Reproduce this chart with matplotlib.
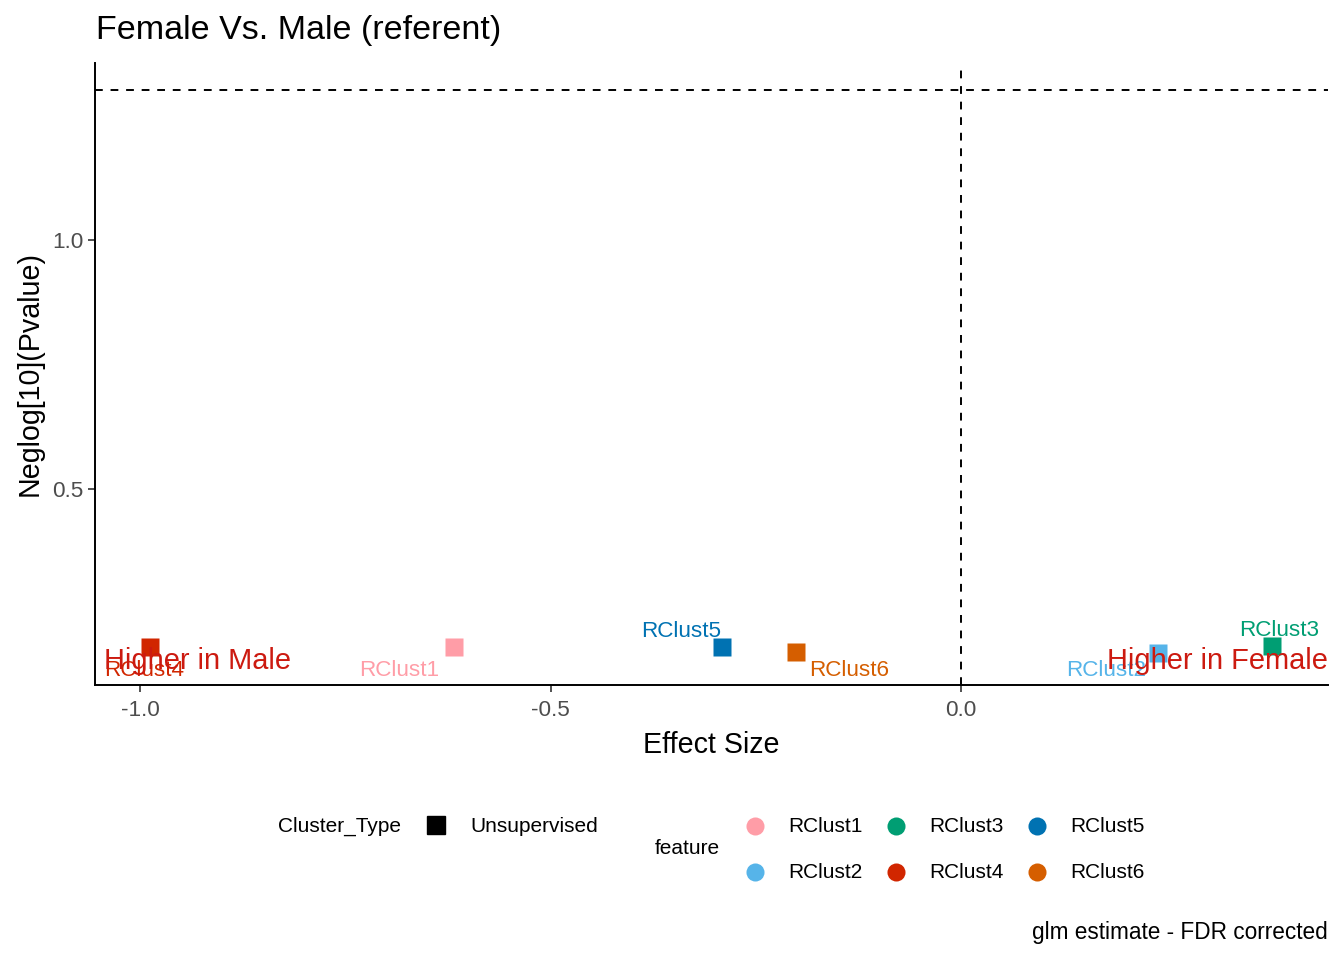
import matplotlib
matplotlib.use("Agg")
import matplotlib.pyplot as plt
from matplotlib.lines import Line2D

plt.rcParams['font.family'] = ['Liberation Sans', 'DejaVu Sans']

features = ["RClust1", "RClust2", "RClust3", "RClust4", "RClust5", "RClust6"]
effect = [-0.618, 0.240, 0.379, -0.988, -0.291, -0.201]
neglogp = [0.183, 0.171, 0.185, 0.183, 0.183, 0.173]
colors = ["#FF9DA7", "#56B4E9", "#009E73", "#D12600", "#0072B2", "#D55E00"]
# label offsets (pixels) as placed by the repel algorithm in the reference
label_offsets = [(-55, -24), (-52, -18), (7, 15), (-6, -24), (-41, 15), (53, -19)]
cluster_type = "Unsupervised"
xticks = [-1.0, -0.5, 0.0]
yticks = [0.5, 1.0]
sig_line = 1.30103

W, H = 1344, 960
fig = plt.figure(figsize=(W / 100, H / 100), dpi=100)
ax = fig.add_axes([95 / W, 1 - 685 / H, (1328 - 95) / W, (685 - 63) / H])

ax.set_xlim(-1.055, 0.447)
ax.set_ylim(0.106, 1.355)

ax.axhline(sig_line, color='black', ls=(0, (4, 4)), lw=1.4, zorder=1)
ax.axvline(0, color='black', ls=(0, (4, 4)), lw=1.4, zorder=1)

for x, y, c in zip(effect, neglogp, colors):
    ax.plot([x], [y], marker='s', ms=13.5, color=c, mec='none', ls='none', zorder=3)

for name, x, y, c, off in zip(features, effect, neglogp, colors, label_offsets):
    ax.annotate(name, (x, y), xytext=off, textcoords='offset pixels',
                ha='center', va='center', color=c, fontsize=16.2, zorder=4)

ax.text(-1.0438, 0.155, "Higher in Male", color='#CC1A10', fontsize=20.9,
        ha='left', va='center', zorder=5)
ax.text(1.0, 0.155, "Higher in Female", color='#CC1A10', fontsize=20.9,
        ha='right', va='center', zorder=5, transform=ax.get_yaxis_transform())

for s in ['top', 'right']:
    ax.spines[s].set_visible(False)
for s in ['left', 'bottom']:
    ax.spines[s].set_linewidth(1.4)
ax.set_xticks(xticks)
ax.set_xticklabels([f"{v:.1f}" for v in xticks])
ax.set_yticks(yticks)
ax.set_yticklabels([f"{v:.1f}" for v in yticks])
ax.tick_params(axis='both', labelsize=16.2, labelcolor='#4D4D4D', length=5, width=1.2, color='#333333')
ax.tick_params(axis='x', pad=6)

ax.set_xlabel("Effect Size", fontsize=20.6, labelpad=7)
ax.set_ylabel("Neglog[10](Pvalue)", fontsize=20.6, labelpad=6)
fig.text(96 / W, 1 - 30 / H, "Female Vs. Male (referent)", fontsize=24.5, ha='left', va='center')
fig.text(1328 / W, 1 - 933 / H, "glm estimate - FDR corrected", fontsize=16.3, ha='right', va='center')

def fx(px):
    return px / W

def fy(py):
    return 1 - py / H

# Cluster_Type legend
fig.text(fx(278), fy(826), "Cluster_Type", fontsize=15, ha='left', va='center')
fig.add_artist(Line2D([fx(436)], [fy(825)], marker='s', ms=13, color='black', ls='none',
                      transform=fig.transFigure))
fig.text(fx(470), fy(826), cluster_type, fontsize=15, ha='left', va='center')

# feature legend
fig.text(fx(655), fy(849), "feature", fontsize=15, ha='left', va='center')
col_x = [755, 896, 1037]
row_y = [826, 872]
for i, (name, c) in enumerate(zip(features, colors)):
    col, row = i // 2, i % 2
    fig.add_artist(Line2D([fx(col_x[col])], [fy(row_y[row])], marker='o', ms=13, color=c,
                          mec='none', ls='none', transform=fig.transFigure))
    fig.text(fx(col_x[col] + 33), fy(row_y[row]), name, fontsize=15, ha='left', va='center')

fig.savefig("out.png", dpi=100)
